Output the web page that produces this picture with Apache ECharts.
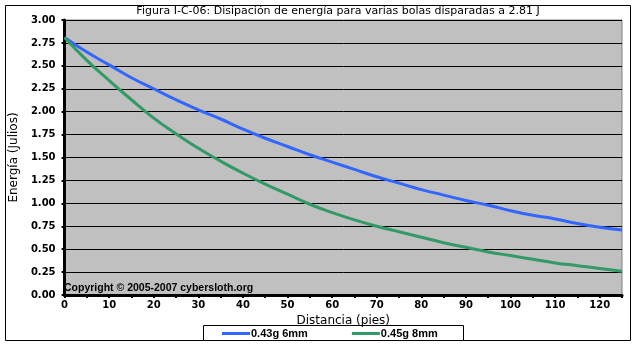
<!DOCTYPE html>
<html>
<head>
<meta charset="utf-8">
<script src="https://cdn.jsdelivr.net/npm/echarts@6/dist/echarts.min.js"></script>
<style>
html,body{margin:0;padding:0;background:#fff;}
#c{width:637px;height:346px;}
</style>
</head>
<body>
<div id="c"></div>
<script>
const distances = [0,5,10,15,20,25,30,35,40,45,50,55,60,65,70,75,80,85,90,95,100,105,110,115,120,125];
const blue643 = [2.81,2.65,2.51,2.37,2.25,2.13,2.02,1.92,1.81,1.71,1.62,1.53,1.45,1.37,1.29,1.22,1.15,1.09,1.03,0.98,0.92,0.87,0.83,0.78,0.74,0.71];
const green845 = [2.81,2.56,2.34,2.13,1.93,1.76,1.60,1.46,1.33,1.21,1.10,0.99,0.90,0.82,0.75,0.69,0.63,0.57,0.52,0.47,0.43,0.39,0.35,0.32,0.29,0.26];
const seriesNames = ['0.43g 6mm','0.45g 8mm'];
const titleText = 'Figura I-C-06: Disipación de energía para varias bolas disparadas a 2.81 J';
const xName = 'Distancia (pies)';
const yName = 'Energía (Julios)';
const copyright = 'Copyright © 2005-2007 cybersloth.org';

const chart = echarts.init(document.getElementById('c'), null, {renderer:'canvas'});
const labelFont = {color:'#000', fontFamily:'DejaVu Sans', fontWeight:'bold', fontSize:10};
chart.setOption({
  animation:false,
  backgroundColor:'#fff',
  title:{text:titleText, left:338, textAlign:'center', top:6, padding:0,
    textStyle:{fontFamily:'DejaVu Sans', fontWeight:'normal', fontSize:11, color:'#000'}},
  grid:{left:58, top:20, right:15, bottom:51, show:true, backgroundColor:'#c0c0c0', borderColor:'#808080', borderWidth:1, containLabel:false},
  legend:{left:222, top:328, itemWidth:28, itemHeight:3, icon:'rect', itemGap:44, padding:0,
    textStyle:{fontFamily:'Liberation Sans', fontWeight:'bold', fontSize:11, color:'#000', padding:[0,0,0,-4]},
    data:seriesNames},
  xAxis:{type:'value', min:0, max:125, interval:5,
    axisLine:{lineStyle:{color:'#000', width:3}},
    axisTick:{show:true, length:3, lineStyle:{color:'#000', width:2}},
    splitLine:{show:false},
    axisLabel:Object.assign({margin:5, formatter:v=> (v%10===0 && v<=120) ? String(v) : ''}, labelFont),
    name:xName, nameLocation:'middle', nameGap:20,
    nameTextStyle:{fontFamily:'DejaVu Sans', fontSize:12, color:'#000', verticalAlign:'top'}},
  yAxis:{type:'value', min:0, max:3, interval:0.25,
    axisLine:{show:true, lineStyle:{color:'#000', width:3}},
    axisTick:{show:true, length:3, lineStyle:{color:'#000', width:2}},
    splitLine:{show:true, lineStyle:{color:'#000', width:1}},
    axisLabel:Object.assign({margin:9, formatter:v=>v.toFixed(2)}, labelFont),
    name:yName, nameLocation:'middle', nameGap:36,
    nameTextStyle:{fontFamily:'DejaVu Sans', fontSize:12, color:'#000'}},
  series:[
    {name:seriesNames[0], type:'line', data:distances.map((d,i)=>[d,blue643[i]]), showSymbol:false, smooth:true,
      lineStyle:{color:'#3366ff', width:3}, itemStyle:{color:'#3366ff'}},
    {name:seriesNames[1], type:'line', data:distances.map((d,i)=>[d,green845[i]]), showSymbol:false, smooth:true,
      lineStyle:{color:'#339966', width:3}, itemStyle:{color:'#339966'}}
  ],
  graphic:[
    {type:'rect', shape:{x:5.5, y:5.5, width:625, height:335}, style:{fill:null, stroke:'#000', lineWidth:1}, silent:true, z:-1},
    {type:'rect', shape:{x:203.5, y:325.5, width:260, height:15}, style:{fill:'#fff', stroke:'#000', lineWidth:1}, silent:true, z:-1},
    {type:'text', left:64, top:283, style:{text:copyright, fontFamily:'Liberation Sans', fontWeight:'bold', fontSize:10.5, fill:'#000'}, z:100}
  ]
});
</script>
</body>
</html>
